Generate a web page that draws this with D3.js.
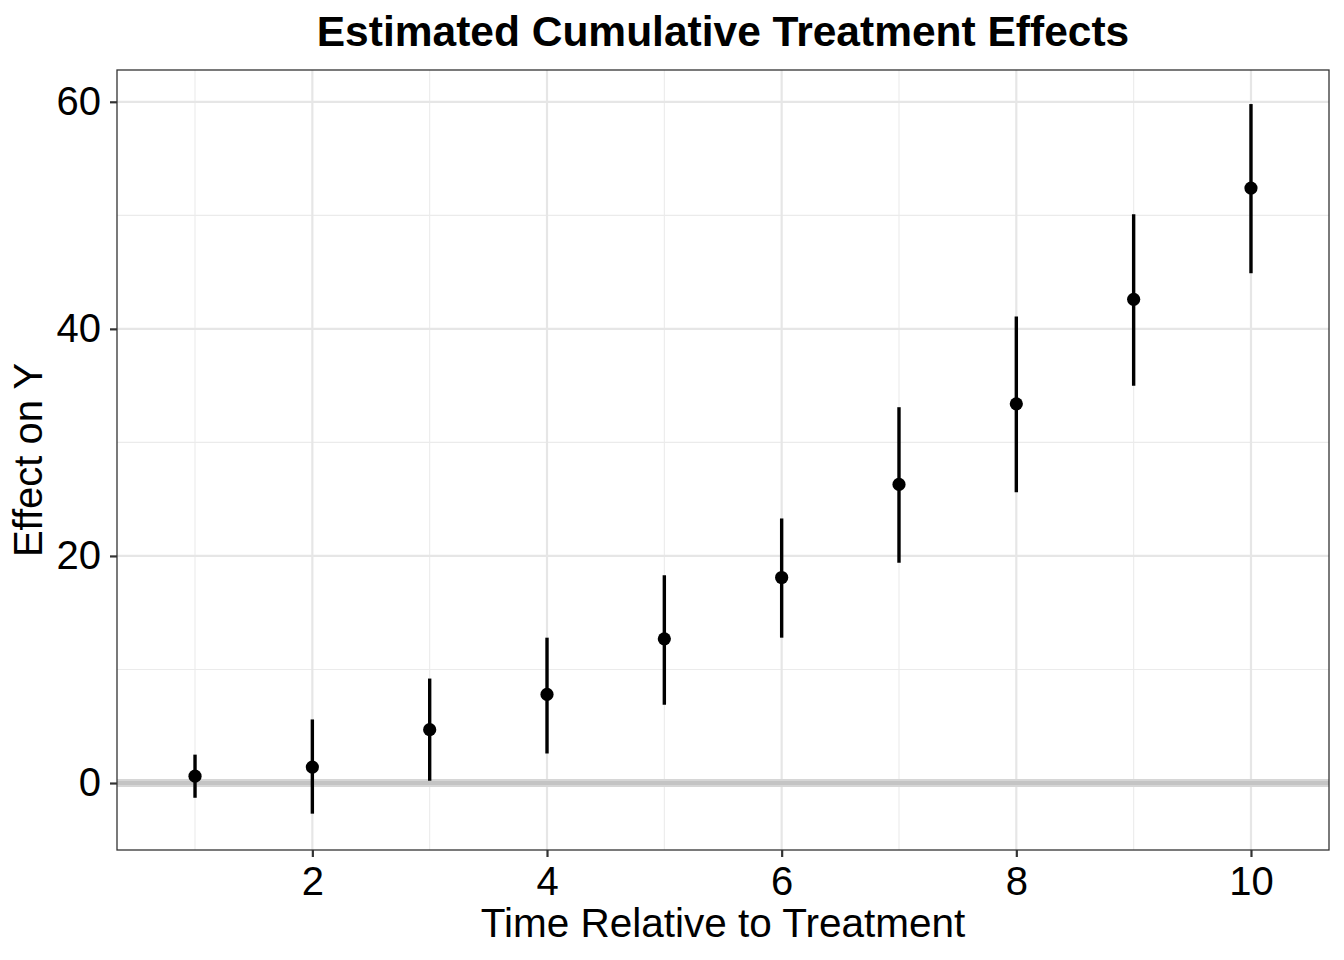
<!DOCTYPE html>
<html>
  <head>
    <title>Estimated Cumulative Treatment Effects</title>
    <script src="https://d3js.org/d3.v7.min.js" charset="utf-8"></script>
    <style>
      body { margin: 0; background: #fff; }
      text { font-family: "Liberation Sans", Arial, sans-serif; fill: #000; }
    </style>
  </head>
  <body>
    <script>
      // values
      var time = [1, 2, 3, 4, 5, 6, 7, 8, 9, 10];
      var estimate = [0.6, 1.4, 4.7, 7.8, 12.7, 18.1, 26.3, 33.4, 42.6, 52.4];
      var lower = [-1.3, -2.7, 0.2, 2.6, 6.9, 12.8, 19.4, 25.6, 35.0, 44.9];
      var upper = [2.5, 5.6, 9.2, 12.8, 18.3, 23.3, 33.1, 41.1, 50.1, 59.8];

      var xTicks = [2, 4, 6, 8, 10];
      var xMinor = [1, 3, 5, 7, 9];
      var yTicks = [0, 20, 40, 60];
      var yMinor = [10, 30, 50];

      var width = 1344;
      var height = 960;
      var panel = {left: 117, right: 1329, top: 70, bottom: 850};

      var svg = d3.select("body")
        .append("svg")
        .attr("width", width)
        .attr("height", height);

      var x = d3.scaleLinear()
        .domain([0.335, 10.665])
        .range([panel.left, panel.right]);

      var y = d3.scaleLinear()
        .domain([-5.9, 62.8])
        .range([panel.bottom, panel.top]);

      // minor grid
      svg.append("g").selectAll("line")
        .data(xMinor)
        .enter().append("line")
        .attr("x1", d => x(d)).attr("x2", d => x(d))
        .attr("y1", panel.top).attr("y2", panel.bottom)
        .attr("stroke", "#ebebeb").attr("stroke-width", 1.1);

      svg.append("g").selectAll("line")
        .data(yMinor)
        .enter().append("line")
        .attr("y1", d => y(d)).attr("y2", d => y(d))
        .attr("x1", panel.left).attr("x2", panel.right)
        .attr("stroke", "#ebebeb").attr("stroke-width", 1.1);

      // major grid
      svg.append("g").selectAll("line")
        .data(xTicks)
        .enter().append("line")
        .attr("x1", d => x(d)).attr("x2", d => x(d))
        .attr("y1", panel.top).attr("y2", panel.bottom)
        .attr("stroke", "#e6e6e6").attr("stroke-width", 2.2);

      svg.append("g").selectAll("line")
        .data(yTicks)
        .enter().append("line")
        .attr("y1", d => y(d)).attr("y2", d => y(d))
        .attr("x1", panel.left).attr("x2", panel.right)
        .attr("stroke", "#e6e6e6").attr("stroke-width", 2.2);

      // zero reference line
      svg.append("line")
        .attr("x1", panel.left).attr("x2", panel.right)
        .attr("y1", y(0)).attr("y2", y(0))
        .attr("stroke", "#d6d6d6").attr("stroke-width", 8);
      svg.append("line")
        .attr("x1", panel.left).attr("x2", panel.right)
        .attr("y1", y(0)).attr("y2", y(0))
        .attr("stroke", "#c4c4c4").attr("stroke-width", 4);

      // error bars and points
      var pts = svg.append("g");
      pts.selectAll("line")
        .data(time)
        .enter().append("line")
        .attr("x1", d => x(d)).attr("x2", d => x(d))
        .attr("y1", (d, i) => y(lower[i]))
        .attr("y2", (d, i) => y(upper[i]))
        .attr("stroke", "#000").attr("stroke-width", 3.4);

      pts.selectAll("circle")
        .data(time)
        .enter().append("circle")
        .attr("cx", d => x(d))
        .attr("cy", (d, i) => y(estimate[i]))
        .attr("r", 6.6)
        .attr("fill", "#000");

      // panel border
      svg.append("rect")
        .attr("x", panel.left).attr("y", panel.top)
        .attr("width", panel.right - panel.left)
        .attr("height", panel.bottom - panel.top)
        .attr("fill", "none")
        .attr("stroke", "#333").attr("stroke-width", 1.3);

      // axes
      var xAxis = svg.append("g")
        .attr("transform", "translate(0," + panel.bottom + ")")
        .call(d3.axisBottom(x).tickValues(xTicks).tickSize(7).tickPadding(10));
      var yAxis = svg.append("g")
        .attr("transform", "translate(" + panel.left + ",0)")
        .call(d3.axisLeft(y).tickValues(yTicks).tickSize(7).tickPadding(9));

      [xAxis, yAxis].forEach(function(a) {
        a.select(".domain").remove();
        a.selectAll(".tick line").attr("stroke", "#333").attr("stroke-width", 2.2);
        a.selectAll(".tick text")
          .attr("font-size", 40)
          .attr("font-family", "Liberation Sans, Arial, sans-serif")
          .attr("fill", "#000");
      });

      // titles
      svg.append("text")
        .attr("x", (panel.left + panel.right) / 2)
        .attr("y", 46)
        .attr("text-anchor", "middle")
        .attr("font-size", 42.5)
        .attr("font-weight", "bold")
        .text("Estimated Cumulative Treatment Effects");

      svg.append("text")
        .attr("x", (panel.left + panel.right) / 2)
        .attr("y", 937)
        .attr("text-anchor", "middle")
        .attr("font-size", 40.5)
        .text("Time Relative to Treatment");

      svg.append("text")
        .attr("transform", "translate(42," + (panel.top + panel.bottom) / 2 + ") rotate(-90)")
        .attr("text-anchor", "middle")
        .attr("font-size", 40)
        .text("Effect on Y");
    </script>
  </body>
</html>
